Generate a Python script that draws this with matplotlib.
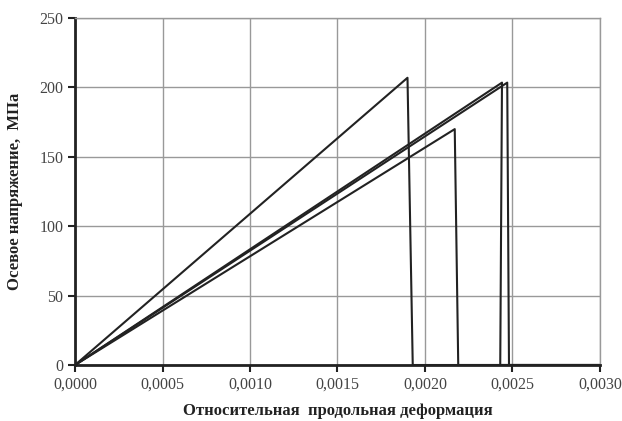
import numpy as np
import matplotlib.pyplot as plt
from matplotlib.ticker import FuncFormatter

plt.rcParams['font.family'] = ['Liberation Serif', 'DejaVu Serif']

# strain / stress points for each specimen
strain1 = [0.0, 0.00190, 0.00193, 0.0030]
stress1 = [0.0, 207.0, 0.0, 0.0]
strain2 = [0.0, 0.00217, 0.00219, 0.0030]
stress2 = [0.0, 170.0, 0.0, 0.0]
strain3 = [0.0, 0.00244, 0.00243, 0.0030]
stress3 = [0.0, 203.5, 0.0, 0.0]
strain4 = [0.0, 0.00247, 0.00248, 0.0030]
stress4 = [0.0, 203.5, 0.0, 0.0]

xticks = [0.0, 0.0005, 0.0010, 0.0015, 0.0020, 0.0025, 0.0030]
yticks = [0, 50, 100, 150, 200, 250]

fig = plt.figure(figsize=(6.22, 4.21), dpi=100)
ax = fig.add_axes([0.1206, 0.133, 0.844, 0.824])

for sx, sy in [(strain1, stress1), (strain2, stress2), (strain3, stress3), (strain4, stress4)]:
    ax.plot(sx, sy, color='#222222', lw=1.5)

ax.set_xlim(0, 0.003)
ax.set_ylim(0, 250)
ax.set_xticks(xticks)
ax.set_yticks(yticks)
ax.xaxis.set_major_formatter(FuncFormatter(lambda v, p: ('%.4f' % v).replace('.', ',')))
ax.grid(True, color='#999999', lw=1.0)
ax.set_axisbelow(True)

for s in ['top', 'right']:
    ax.spines[s].set_color('#999999')
    ax.spines[s].set_linewidth(1.0)
for s in ['left', 'bottom']:
    ax.spines[s].set_color('#222222')
    ax.spines[s].set_linewidth(2.0)

ax.tick_params(axis='both', labelsize=11.5, colors='#222222', labelcolor='#444444', width=1.5, length=5)

ax.set_xlabel('Относительная  продольная деформация', fontsize=12, fontweight='bold', color='#222222', labelpad=7)
ax.set_ylabel('Осевое напряжение,  МПа', fontsize=12, fontweight='bold', color='#222222', labelpad=12)

fig.savefig('out.png', dpi=100)
